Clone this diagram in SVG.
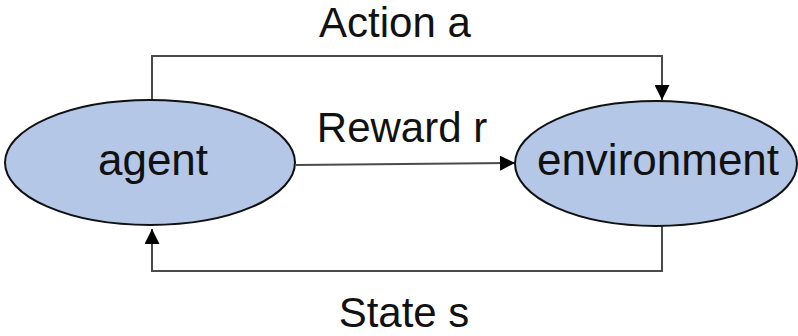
<svg xmlns="http://www.w3.org/2000/svg" width="798" height="336" viewBox="0 0 798 336">
<style>
.node{fill:#b4c7e7;stroke:#111;stroke-width:2}
.lbl{font-family:"Liberation Sans",Arial,sans-serif;fill:#111;text-anchor:middle}
.nl{font-size:44px}
.el{font-size:42px}
.conn{fill:none;stroke:#4a4a4a;stroke-width:2}
</style>
<defs>
<marker id="arr" viewBox="0 0 10 10" refX="10" refY="5" markerWidth="8" markerHeight="7.5" markerUnits="strokeWidth" orient="auto">
<path d="M0,0 L10,5 L0,10 z" fill="#000"/>
</marker>
</defs>
<rect width="798" height="336" fill="#fff"/>
<g id="connectors">
<polyline class="conn" points="152,100 152,56 662,56 662,100" marker-end="url(#arr)"/>
<line class="conn" x1="296" y1="165" x2="515" y2="163" marker-end="url(#arr)"/>
<polyline class="conn" points="662,226 662,271 152,271 152,229" marker-end="url(#arr)"/>
</g>
<g id="agent">
<ellipse class="node" cx="150" cy="162.5" rx="145" ry="62.5"/>
<text class="lbl nl" x="153" y="175">agent</text>
</g>
<g id="environment">
<ellipse class="node" cx="656" cy="163.5" rx="141" ry="62.5"/>
<text class="lbl nl" x="658" y="175">environment</text>
</g>
<g id="labels">
<text class="lbl el" x="395" y="37">Action a</text>
<text class="lbl el" x="402" y="142">Reward r</text>
<text class="lbl el" x="404" y="327">State s</text>
</g>
</svg>
